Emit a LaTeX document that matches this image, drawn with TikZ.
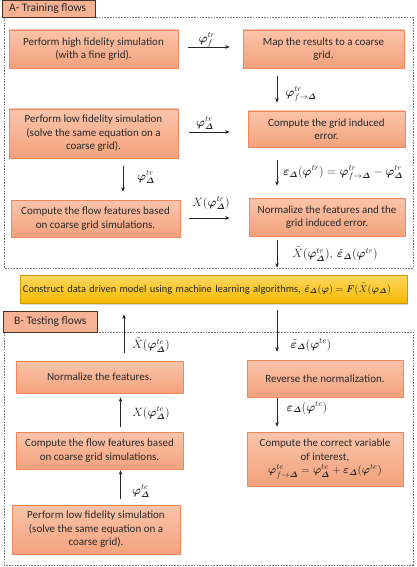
\documentclass[tikz,border=0pt]{standalone}
\usepackage{amsmath}
\usepackage{bm}
\usepackage{fontspec}
\setmainfont{Carlito}
\usetikzlibrary{arrows.meta,shadows}
\definecolor{boxtop}{RGB}{250,196,170}
\definecolor{boxbot}{RGB}{244,162,124}
\definecolor{boxline}{RGB}{238,135,90}
\definecolor{tabfill}{RGB}{247,178,148}
\definecolor{tabline}{RGB}{70,50,40}
\definecolor{ytop}{RGB}{255,216,95}
\definecolor{ybot}{RGB}{245,184,0}
\definecolor{yline}{RGB}{205,155,0}
\definecolor{txt}{RGB}{40,40,40}
\definecolor{dashgray}{RGB}{120,120,120}
\newcommand{\vphi}{\bm{\varphi}}
\newcommand{\Dl}{\bm{\varDelta}}
\begin{document}
\begin{tikzpicture}[x=1pt,y=-1pt,
  font=\fontsize{11}{13.5}\selectfont, text=txt,
  flowbox/.style={draw=boxline, line width=0.6pt, top color=boxtop, bottom color=boxbot,
     align=center, inner sep=2pt, drop shadow={shadow xshift=1pt,shadow yshift=-1pt,opacity=0.25}},
  ybox/.style={draw=yline, line width=0.6pt, top color=ytop, bottom color=ybot,
     align=left, inner sep=2pt, font=\fontsize{10.4}{12}\selectfont,
     drop shadow={shadow xshift=1pt,shadow yshift=-1.5pt,opacity=0.3}},
  tabbox/.style={draw=tabline, line width=0.6pt, fill=tabfill, anchor=north west, inner sep=0pt,
     drop shadow={shadow xshift=1pt,shadow yshift=-1pt,opacity=0.3}},
  tabtext/.style={anchor=west, inner sep=0pt, font=\fontsize{11.5}{13}\selectfont},
  frame/.style={draw=dashgray, line width=0.6pt, dash pattern=on 1.6pt off 1.2pt},
  arr/.style={-{Stealth[length=4.5pt,width=3.5pt]}, line width=0.6pt, draw=black!85},
  lbl/.style={inner sep=0pt, font=\fontsize{11.5}{13}\selectfont}
]
\useasboundingbox (0,0) rectangle (417,567);
\fill[white] (0,0) rectangle (417,567);

% frames
\draw[frame] (4,17) rectangle (413,268);
\draw[frame] (4,332) rectangle (413,565);

% tabs
\node[tabbox, minimum width=93pt, minimum height=17pt] (tabA) at (2,0) {};
\node[tabtext] (tabAt) at (9,9) {A- Training flows};
\node[tabbox, minimum width=94pt, minimum height=21pt] (tabB) at (3,311) {};
\node[tabtext] (tabBt) at (14,322) {B- Testing flows};

% Training boxes
\node[flowbox, minimum width=169pt, minimum height=38pt] (b1) at (93.5,49)
  {Perform high fidelity simulation\\(with a fine grid).};
\node[flowbox, minimum width=161pt, minimum height=38pt] (b2) at (323.5,49)
  {Map the results to a coarse\\grid.};
\node[flowbox, minimum width=169pt, minimum height=49pt] (b3) at (93.5,133.5)
  {Perform low fidelity simulation\\(solve the same equation on a\\coarse grid).};
\node[flowbox, minimum width=157pt, minimum height=36pt] (b4) at (326.5,129)
  {Compute the grid induced\\error.};
\node[flowbox, minimum width=169pt, minimum height=37pt] (b5) at (95.5,218.5)
  {Compute the flow features based\\on coarse grid simulations.};
\node[flowbox, minimum width=156pt, minimum height=38pt] (b6) at (327,217)
  {Normalize the features and the\\grid induced error.};

% model box
\node[ybox, minimum width=387pt, minimum height=28pt, text width=381pt] (ym) at (213.5,289)
  {Construct data driven model using machine learning algorithms, $\tilde{\bm{\varepsilon}}_{\Dl}(\vphi)=\bm{F}(\tilde{X}(\vphi_{\Dl})$};

% Testing boxes
\node[flowbox, minimum width=167pt, minimum height=32pt] (c1) at (99.5,377)
  {Normalize the features.};
\node[flowbox, minimum width=156pt, minimum height=37pt] (c2) at (325,378.5)
  {Reverse the normalization.};
\node[flowbox, minimum width=167pt, minimum height=37pt] (c3) at (99.5,450.5)
  {Compute the flow features based\\on coarse grid simulations.};
\node[flowbox, minimum width=156pt, minimum height=54pt] (c4) at (325,459)
  {Compute the correct variable\\of interest,\\$\vphi^{te}_{f\to\Dl}=\vphi^{te}_{\Dl}+\bm{\varepsilon}_{\Dl}(\vphi^{te})$};
\node[flowbox, minimum width=168pt, minimum height=49pt] (c5) at (96,529.5)
  {Perform low fidelity simulation\\(solve the same equation on a\\coarse grid).};

% column coordinates
\coordinate (colR) at (277,0);
\coordinate (colL) at (123,0);
\coordinate (colLb) at (124,0);
\coordinate (colLc) at (120.5,0);

% training connectors
\draw[arr, shorten <=10pt, shorten >=13pt] ([yshift=2pt]b1.east) -- ([yshift=2pt]b1.east -| b2.west);
\node[lbl] (l1) at (207,40) {$\vphi^{tr}_{f}$};
\draw[arr, shorten <=8pt, shorten >=8pt] (b2.south -| colR) -- (b4.north -| colR);
\node[lbl] (l2) at (301,94) {$\vphi^{tr}_{f\to\Dl}$};
\draw[arr, shorten <=11pt, shorten >=18pt] ([yshift=1.5pt]b3.east) -- ([yshift=1.5pt]b3.east -| b4.west);
\node[lbl] (l3) at (205,123) {$\vphi^{tr}_{\Dl}$};
\draw[arr, shorten <=8pt, shorten >=8pt] (b3.south -| colL) -- (b5.north -| colL);
\node[lbl] (l4) at (146,177) {$\vphi^{tr}_{\Dl}$};
\draw[arr, shorten <=13pt, shorten >=12pt] (b4.south -| colR) -- (b6.north -| colR);
\node[lbl] (l5) at (343,173) {$\bm{\varepsilon}_{\Dl}(\vphi^{tr})=\vphi^{tr}_{f\to\Dl}-\vphi^{tr}_{\Dl}$};
\draw[arr, shorten <=9pt, shorten >=19pt] (b5.east |- 0,218) -- (b6.west |- 0,218);
\node[lbl] (l6) at (211,203) {$X(\vphi^{tr}_{\Dl})$};
\draw[arr, shorten <=4pt, shorten >=7pt] (b6.south -| colR) -- (ym.north -| colR);
\node[lbl] (l7) at (335,254) {$\tilde{X}(\vphi^{tr}_{\Dl}),\,\tilde{\bm{\varepsilon}}_{\Dl}(\vphi^{tr})$};

% testing connectors
\draw[arr, shorten <=8pt, shorten >=11pt] (c1.north -| colLb) -- (ym.south -| colLb);
\node[lbl] (l8) at (151,345) {$\tilde{X}(\vphi^{te}_{\Dl})$};
\draw[arr, shorten <=7pt, shorten >=8pt] (ym.south -| colR) -- (c2.north -| colR);
\node[lbl] (l9) at (311,345) {$\tilde{\bm{\varepsilon}}_{\Dl}(\vphi^{te})$};
\draw[arr, shorten <=5pt, shorten >=4pt] (c3.north -| colLc) -- (c1.south -| colLc);
\node[lbl] (l10) at (151,413) {$X(\vphi^{te}_{\Dl})$};
\draw[arr, shorten <=1pt, shorten >=5pt] (c2.south -| colR) -- (c4.north -| colR);
\node[lbl] (l11) at (307,408) {$\bm{\varepsilon}_{\Dl}(\vphi^{te})$};
\draw[arr, shorten <=6pt, shorten >=1pt] (c5.north -| colLc) -- (c3.south -| colLc);
\node[lbl] (l12) at (141,491) {$\vphi^{te}_{\Dl}$};
\end{tikzpicture}
\end{document}
